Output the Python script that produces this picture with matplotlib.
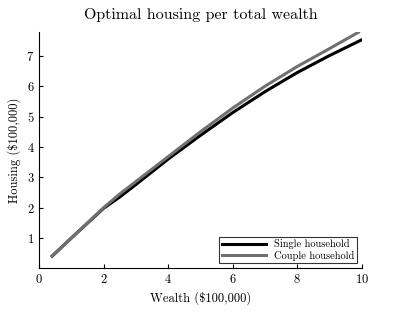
import matplotlib
matplotlib.use("Agg")
import matplotlib.pyplot as plt

plt.rcParams['font.family'] = 'serif'
plt.rcParams['font.serif'] = ['cmr10']
plt.rcParams['mathtext.fontset'] = 'cm'
plt.rcParams['axes.unicode_minus'] = False
plt.rcParams['axes.formatter.use_mathtext'] = True

# optimal housing (in $100,000)
wealth_single = [0.4, 1.0, 2.0, 2.5, 3.0, 4.0, 5.0, 6.0, 7.0, 8.0, 9.0, 10.0]
housing_single = [0.4, 1.0, 1.98, 2.35, 2.76, 3.6, 4.38, 5.13, 5.82, 6.45, 7.01, 7.53]

wealth_couple = [0.4, 1.0, 2.0, 2.5, 3.0, 4.0, 5.0, 6.0, 7.0, 8.0, 9.0, 9.9]
housing_couple = [0.4, 1.0, 2.0, 2.45, 2.86, 3.68, 4.5, 5.28, 6.0, 6.65, 7.24, 7.78]

fig = plt.figure(figsize=(3.93, 3.17), dpi=100)
ax = fig.add_axes([0.1, 0.154, 0.82, 0.746])

ax.plot(wealth_single, housing_single, color='black', lw=2.2, label='Single household')
ax.plot(wealth_couple, housing_couple, color='#707070', lw=2.2, label='Couple household')

ax.set_xlim(0, 10)
ax.set_ylim(0, 7.8)
ax.set_xticks([0, 2, 4, 6, 8, 10])
ax.set_yticks([1, 2, 3, 4, 5, 6, 7])
ax.tick_params(direction='in', labelsize=9, length=3)

for s in ['top', 'right']:
    ax.spines[s].set_visible(False)

ax.set_title('Optimal housing per total wealth', fontsize=11.5, pad=9)
ax.set_xlabel(r'Wealth (\$100,000)', fontsize=9)
ax.set_ylabel(r'Housing (\$100,000)', fontsize=9)

leg = ax.legend(loc='lower right', fontsize=7.5, fancybox=False, edgecolor='black',
                handlelength=4.2, borderpad=0.25, labelspacing=0.15, borderaxespad=0.45)
leg.get_frame().set_linewidth(0.8)

fig.savefig('out.png', dpi=100)
